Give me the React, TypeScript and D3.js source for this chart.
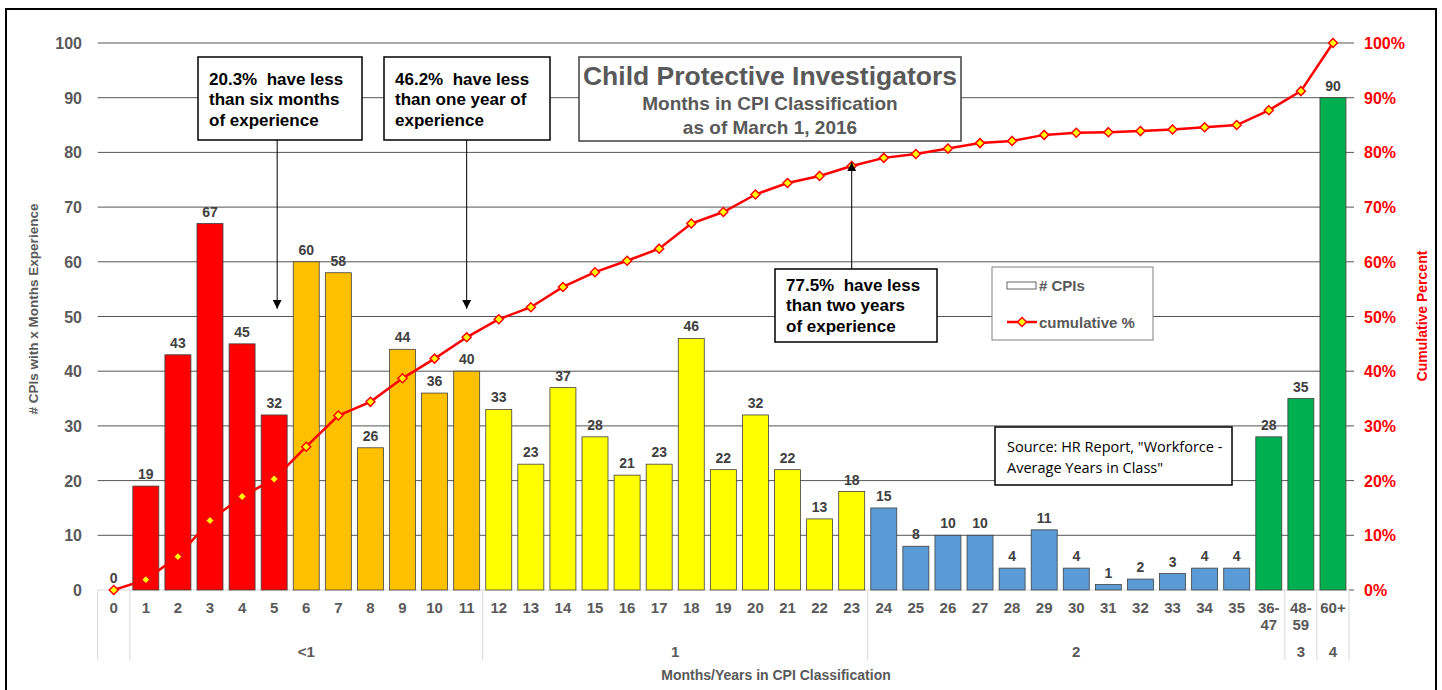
import React from "react";
import * as d3 from "d3";

const categories = ["0","1","2","3","4","5","6","7","8","9","10","11","12","13","14","15","16","17","18","19","20","21","22","23","24","25","26","27","28","29","30","31","32","33","34","35","36-47","48-59","60+"];
const counts = [0,19,43,67,45,32,60,58,26,44,36,40,33,23,37,28,21,23,46,22,32,22,13,18,15,8,10,10,4,11,4,1,2,3,4,4,28,35,90];
const cumulativePct = [0,1.9,6.1,12.7,17.1,20.3,26.2,31.9,34.4,38.7,42.3,46.2,49.5,51.7,55.4,58.1,60.2,62.4,67.0,69.1,72.3,74.4,75.7,77.5,79.0,79.7,80.7,81.7,82.1,83.2,83.6,83.7,83.9,84.2,84.6,85.0,87.7,91.2,100];
const colorBands = [
  { last: "5", color: "#FF0000" },
  { last: "11", color: "#FFC000" },
  { last: "23", color: "#FFFF00" },
  { last: "35", color: "#5B9BD5" },
  { last: "60+", color: "#00B050" },
];
const yearGroups = [
  { label: "", first: "0", last: "0" },
  { label: "<1", first: "1", last: "11" },
  { label: "1", first: "12", last: "23" },
  { label: "2", first: "24", last: "36-47" },
  { label: "3", first: "48-59", last: "48-59" },
  { label: "4", first: "60+", last: "60+" },
];
const leftTicks = [0,10,20,30,40,50,60,70,80,90,100];
const rightTicks = [0,10,20,30,40,50,60,70,80,90,100];
const annotations = [
  { lines: ["20.3%  have less", "than six months", "of experience"], cat: "5", tip: 51.4, box: [198, 57, 164, 83], dx: 3, textTop: 28 },
  { lines: ["46.2%  have less", "than one year of", "experience"], cat: "11", tip: 51.4, box: [384, 57, 166, 83], dx: 0, textTop: 28 },
  { lines: ["77.5%  have less", "than two years", "of experience"], cat: "23", tip: 78.2, box: [775, 269, 162, 73], dx: 0, textTop: 22 },
];

const W = 1442, H = 690;
const plotL = 97.7, plotR = 1349, plotT = 43, plotB = 590;
const AR = "'Liberation Sans', Arial, sans-serif";
const GREY = "#595959";

export default function App() {
  const x = d3.scaleBand<string>().domain(categories).range([plotL, plotR]).paddingInner(0.19).paddingOuter(0.095);
  const y = d3.scaleLinear().domain([0, 100]).range([plotB, plotT]);
  const yPct = d3.scaleLinear().domain([0, 100]).range([plotB, plotT]);
  const step = x.step();
  const cx = (c: string) => (x(c) as number) + x.bandwidth() / 2;
  const colorOf = (i: number) => {
    for (const b of colorBands) if (i <= categories.indexOf(b.last)) return b.color;
    return "#ccc";
  };
  const line = d3.line<number>().x((_, i) => cx(categories[i])).y((d) => yPct(d));
  const diamond = (px: number, py: number, r: number) => `M${px},${py - r}L${px + r},${py}L${px},${py + r}L${px - r},${py}Z`;
  const bandStart = (c: string) => (x(c) as number) - (step - x.bandwidth()) / 2;
  const bandEnd = (c: string) => bandStart(c) + step;
  const sepXs = [bandStart("0"), ...yearGroups.map((g) => bandEnd(g.last))];

  return (
    <svg width={W} height={H} style={{ position: "absolute", left: 0, top: 0, background: "#fff" }} fontFamily={AR}>
      <defs>
        <marker id="ah" viewBox="0 0 10 10" refX="10" refY="5" markerWidth="9" markerHeight="9" orient="auto-start-reverse" markerUnits="userSpaceOnUse">
          <path d="M0,0L10,5L0,10Z" fill="#000" />
        </marker>
      </defs>
      <rect x={6} y={9} width={1430} height={700} fill="#fff" stroke="#000" strokeWidth={2} />
      {leftTicks.filter((t) => t > 0).map((t) => (
        <line key={t} x1={plotL} x2={plotR} y1={y(t)} y2={y(t)} stroke="#555" strokeWidth={1} />
      ))}
      {rightTicks.map((t) => (
        <line key={"rt" + t} x1={plotR} x2={plotR + 5} y1={yPct(t)} y2={yPct(t)} stroke="#555" strokeWidth={1} />
      ))}
      {sepXs.map((sx, i) => (
        <line key={"s" + i} x1={sx} x2={sx} y1={plotB} y2={660} stroke="#d9d9d9" strokeWidth={1} />
      ))}
      <line x1={plotL} x2={plotR} y1={plotB} y2={plotB} stroke="#d9d9d9" strokeWidth={1} />
      {counts.map((v, i) => (
        <rect key={"b" + i} x={x(categories[i])} y={y(v)} width={x.bandwidth()} height={plotB - y(v)} fill={colorOf(i)} stroke="#404040" strokeWidth={0.8} />
      ))}
      <path d={line(cumulativePct) || ""} fill="none" stroke="#FF0000" strokeWidth={2.5} />
      {cumulativePct.map((v, i) => (
        <path key={"m" + i} d={diamond(cx(categories[i]), yPct(v), 4.5)} fill="#FFFF00" stroke="#FF0000" strokeWidth={1.5} />
      ))}
      {counts.map((v, i) => (
        <text key={"l" + i} x={cx(categories[i])} y={y(v) - 7} textAnchor="middle" fontSize={14} fontWeight="bold" fill="#404040">{v}</text>
      ))}
      {leftTicks.map((t) => (
        <text key={"yl" + t} x={82} y={y(t) + 6} textAnchor="end" fontSize={16} fontWeight="bold" fill={GREY}>{t}</text>
      ))}
      {rightTicks.map((t) => (
        <text key={"yr" + t} x={1364} y={yPct(t) + 6} textAnchor="start" fontSize={16} fontWeight="bold" fill="#FF0000">{t}%</text>
      ))}
      {categories.map((c) => {
        const parts = c.includes("-") ? [c.split("-")[0] + "-", c.split("-")[1]] : [c];
        return (
          <text key={"xt" + c} x={cx(c)} y={613} textAnchor="middle" fontSize={15} fontWeight="bold" fill={GREY}>
            {parts.map((p, k) => (
              <tspan key={k} x={cx(c)} dy={k === 0 ? 0 : 17}>{p}</tspan>
            ))}
          </text>
        );
      })}
      {yearGroups.map((g) => (
        <text key={"g" + g.first} x={(bandStart(g.first) + bandEnd(g.last)) / 2} y={657} textAnchor="middle" fontSize={15} fontWeight="bold" fill={GREY}>{g.label}</text>
      ))}
      <text x={776} y={680} textAnchor="middle" fontSize={14} fontWeight="bold" fill={GREY}>Months/Years in CPI Classification</text>
      <text transform={`translate(38,309) rotate(-90)`} textAnchor="middle" fontSize={13.5} fontWeight="bold" fill={GREY}>#  CPIs with x Months  Experience</text>
      <text transform={`translate(1427,316) rotate(-90)`} textAnchor="middle" fontSize={14} fontWeight="bold" fill="#FF0000">Cumulative Percent</text>
      <rect x={579} y={57} width={382} height={84} fill="#fff" stroke="#404040" strokeWidth={1.5} />
      <text x={770} y={85} textAnchor="middle" fontSize={26.5} fontWeight="bold" fill={GREY}>Child Protective Investigators</text>
      <text x={770} y={110} textAnchor="middle" fontSize={19} fontWeight="bold" fill={GREY}>Months in CPI Classification</text>
      <text x={770} y={134} textAnchor="middle" fontSize={19} fontWeight="bold" fill={GREY}>as of March 1, 2016</text>
      {annotations.map((a, k) => {
        const [bx, by, bw, bh] = a.box;
        const ax = cx(a.cat) + a.dx;
        const below = yPct(a.tip) > by;
        const y1 = below ? by + bh : by;
        return (
          <g key={"a" + k}>
            <line x1={ax} x2={ax} y1={y1} y2={yPct(a.tip)} stroke="#000" strokeWidth={1} markerEnd="url(#ah)" />
            <rect x={bx} y={by} width={bw} height={bh} fill="#fff" stroke="#000" strokeWidth={1.5} />
            {a.lines.map((ln, j) => (
              <text key={j} x={bx + 11} y={by + a.textTop + j * 20.3} fontSize={17} fontWeight="bold" fill="#000" style={{ whiteSpace: "pre" }}>{ln}</text>
            ))}
          </g>
        );
      })}
      <rect x={992} y={267} width={161} height={73} fill="#fff" stroke="#808080" strokeWidth={1} />
      <rect x={1007} y={282} width={29} height={7} fill="#fff" stroke="#404040" strokeWidth={0.8} />
      <text x={1039} y={291} fontSize={15} fontWeight="bold" fill={GREY}># CPIs</text>
      <line x1={1007} x2={1037} y1={322} y2={322} stroke="#FF0000" strokeWidth={2.5} />
      <path d={diamond(1022, 322, 4.5)} fill="#FFFF00" stroke="#FF0000" strokeWidth={1.5} />
      <text x={1039} y={328} fontSize={15} fontWeight="bold" fill={GREY}>cumulative %</text>
      <rect x={995} y={427} width={237} height={58} fill="#fff" stroke="#000" strokeWidth={1.5} />
      <text x={1007} y={452} fontSize={14.5} fill="#000" fontFamily="'Open Sans', sans-serif">Source: HR Report, "Workforce -</text>
      <text x={1007} y={473} fontSize={14.5} fill="#000" fontFamily="'Open Sans', sans-serif">Average Years in Class"</text>
    </svg>
  );
}
